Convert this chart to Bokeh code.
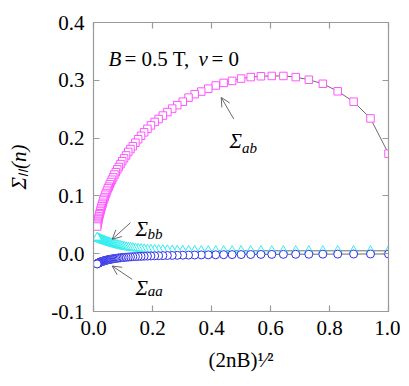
from bokeh.plotting import figure
from bokeh.models import (Label, Arrow, OpenHead, LinearAxis, FixedTicker,
                          PrintfTickFormatter, Range1d, ColumnDataSource,
                          CustomJSTickFormatter)
from bokeh.embed import file_html
from bokeh.resources import INLINE

# ---- data ----
x_vals = [1.0, 0.939, 0.8817, 0.8279, 0.7774, 0.7300, 0.6855, 0.6437, 0.6044, 0.5675,
          0.5329, 0.5004, 0.4699, 0.4412, 0.4143, 0.3890, 0.3653, 0.3430, 0.3221, 0.3025,
          0.2840, 0.2667, 0.2504, 0.2351, 0.2208, 0.2073, 0.1947, 0.1828, 0.1716, 0.1612,
          0.1513, 0.1421, 0.1334, 0.1253, 0.1177, 0.1105, 0.1037, 0.0974, 0.0915, 0.0859,
          0.0806, 0.0757, 0.0711, 0.0668, 0.0627, 0.0589, 0.0553, 0.0519, 0.0487, 0.0458,
          0.0430, 0.0403, 0.0379, 0.0356, 0.0334, 0.0314, 0.0294, 0.0276, 0.0260, 0.0244,
          0.0229, 0.0215, 0.0202, 0.0189, 0.0178, 0.0167, 0.0157, 0.0147, 0.0138, 0.0130,
          0.0122]

sigma_ab = [0.173, 0.234, 0.263, 0.281, 0.294, 0.301, 0.3055, 0.3075, 0.3075, 0.307,
            0.3055, 0.303, 0.299, 0.2955, 0.291, 0.2855, 0.2805, 0.276, 0.270, 0.263,
            0.257, 0.251, 0.245, 0.239, 0.233, 0.228, 0.222, 0.216, 0.210, 0.204,
            0.198, 0.192, 0.186, 0.181, 0.176, 0.170, 0.165, 0.160, 0.155, 0.150,
            0.146, 0.141, 0.137, 0.132, 0.128, 0.124, 0.120, 0.116, 0.113, 0.109,
            0.105, 0.102, 0.098, 0.095, 0.092, 0.088, 0.085, 0.082, 0.079, 0.076,
            0.073, 0.070, 0.068, 0.065, 0.062, 0.060, 0.057, 0.055, 0.052, 0.050,
            0.047]

sigma_bb = [0.005, 0.005, 0.005, 0.005, 0.005, 0.005, 0.005, 0.005, 0.005, 0.005,
            0.005, 0.005, 0.005, 0.005, 0.005, 0.005, 0.005, 0.0052, 0.0054, 0.0055,
            0.0057, 0.006, 0.0062, 0.0065, 0.0067, 0.007, 0.0072, 0.0076, 0.008, 0.0085,
            0.009, 0.0095, 0.010, 0.0105, 0.011, 0.0117, 0.0124, 0.013, 0.0138, 0.0145,
            0.0152, 0.016, 0.0166, 0.0172, 0.0178, 0.0185, 0.019, 0.0196, 0.0202, 0.0207,
            0.0212, 0.0217, 0.0222, 0.0226, 0.023, 0.0234, 0.0238, 0.0242, 0.0246, 0.025,
            0.0253, 0.0256, 0.0259, 0.0262, 0.0265, 0.0268, 0.027, 0.0273, 0.0275, 0.0278,
            0.028]

sigma_aa = [-0.0005, -0.0005, -0.0006, -0.0007, -0.0008, -0.0009, -0.001, -0.0011, -0.0012, -0.0013,
            -0.0014, -0.0015, -0.0016, -0.0017, -0.0019, -0.002, -0.0021, -0.0023, -0.0024, -0.0026,
            -0.0028, -0.003, -0.0031, -0.0033, -0.0035, -0.0037, -0.0039, -0.0041, -0.0043, -0.0045,
            -0.0047, -0.005, -0.0052, -0.0055, -0.0058, -0.0061, -0.0064, -0.0067, -0.007, -0.0074,
            -0.0077, -0.0081, -0.0084, -0.0088, -0.0091, -0.0095, -0.0098, -0.0102, -0.0106, -0.0109,
            -0.0113, -0.0117, -0.012, -0.0124, -0.0127, -0.013, -0.0134, -0.0137, -0.014, -0.0144,
            -0.0147, -0.015, -0.0153, -0.0156, -0.0159, -0.0162, -0.0165, -0.0168, -0.0171, -0.0174,
            -0.0177]

x_ticks = [0.0, 0.2, 0.4, 0.6, 0.8, 1.0]
y_ticks = [-0.1, 0.0, 0.1, 0.2, 0.3, 0.4]

FONT = "'Liberation Serif', 'Times New Roman', serif"
AX_COL = "#9a9a9a"

src = ColumnDataSource(dict(x=x_vals, ab=sigma_ab, bb=sigma_bb, aa=sigma_aa))

p = figure(width=400, height=380, x_range=Range1d(0, 1), y_range=Range1d(-0.1, 0.4),
           output_backend="svg", toolbar_location=None,
           min_border_left=93, min_border_right=12, min_border_top=22, min_border_bottom=69)
p.grid.visible = False
p.outline_line_color = AX_COL
p.background_fill_color = "white"
p.border_fill_color = "white"

def style_axis(ax, ticks, labels=True):
    ax.ticker = FixedTicker(ticks=ticks)
    ax.minor_tick_line_color = None
    ax.major_tick_in = 6
    ax.major_tick_out = 0
    ax.axis_line_color = AX_COL
    ax.major_tick_line_color = AX_COL
    ax.axis_line_width = 1.2
    ax.major_tick_line_width = 1.2
    if labels:
        ax.formatter = PrintfTickFormatter(format="%.1f")
        ax.major_label_text_font = FONT
        ax.major_label_text_font_size = "21px"
        ax.major_label_text_color = "black"
        ax.major_label_standoff = 9
        ax.axis_label_text_font = FONT
        ax.axis_label_text_font_size = "21px"
        ax.axis_label_text_color = "black"
    else:
        ax.formatter = CustomJSTickFormatter(code="return ''")
        ax.major_label_text_font_size = "1px"
        ax.major_label_standoff = 0

style_axis(p.xaxis[0], x_ticks)
style_axis(p.yaxis[0], y_ticks)
p.xaxis[0].axis_label = "(2nB)¹⁄²"
p.xaxis[0].axis_label_text_font_style = "normal"
p.xaxis[0].axis_label_standoff = 10
p.yaxis[0].axis_label = "Σₗₗ(n)"
p.yaxis[0].axis_label_text_font_style = "italic"
p.yaxis[0].axis_label_standoff = 17

top = LinearAxis()
right = LinearAxis()
style_axis(top, x_ticks, labels=False)
style_axis(right, y_ticks, labels=False)
p.add_layout(top, "above")
p.add_layout(right, "right")

# connecting lines
for col in ["ab", "bb", "aa"]:
    p.line("x", col, source=src, line_color="#444444", line_width=0.8)

p.scatter("x", "ab", source=src, marker="square", size=7.5, line_color="#ff55ff",
          fill_color="white", line_width=1)
p.scatter("x", "bb", source=src, marker="triangle", size=9, line_color="#33eeee",
          fill_color="white", line_width=1)
p.scatter("x", "aa", source=src, marker="circle", size=8, line_color="#3030e8",
          fill_color="white", line_width=1)

def lab(text, x, y, size="21px", italic=False):
    p.add_layout(Label(x=x, y=y, text=text, text_font=FONT, text_font_size=size,
                       text_font_style="italic" if italic else "normal",
                       text_color="black", text_align="left",
                       text_baseline="alphabetic"))

# in-plot annotation "B = 0.5 T, nu = 0"
lab("B", 0.0508, 0.337, italic=True)
lab("= 0.5 T,", 0.1051, 0.337)
lab("ν", 0.356, 0.337, italic=True)
lab("= 0", 0.400, 0.337)

# curve labels
lab("Σ", 0.461, 0.1953, italic=True)
lab("ab", 0.503, 0.1832, size="15px", italic=True)
lab("Σ", 0.1424, 0.0428, italic=True)
lab("bb", 0.1831, 0.0333, size="15px", italic=True)
lab("Σ", 0.1424, -0.0589, italic=True)
lab("aa", 0.1841, -0.0646, size="15px", italic=True)

def arrow(x0, y0, x1, y1):
    p.add_layout(Arrow(end=OpenHead(size=9, line_width=0.8, line_color="#444444"),
                       x_start=x0, y_start=y0, x_end=x1, y_end=y1,
                       line_width=0.8, line_color="#444444"))

arrow(0.4756, 0.2329, 0.4329, 0.2704)
arrow(0.1254, 0.0537, 0.0634, 0.0250)
arrow(0.1312, -0.0444, 0.0634, -0.0213)

open("out.html", "w").write(file_html(p, INLINE))
